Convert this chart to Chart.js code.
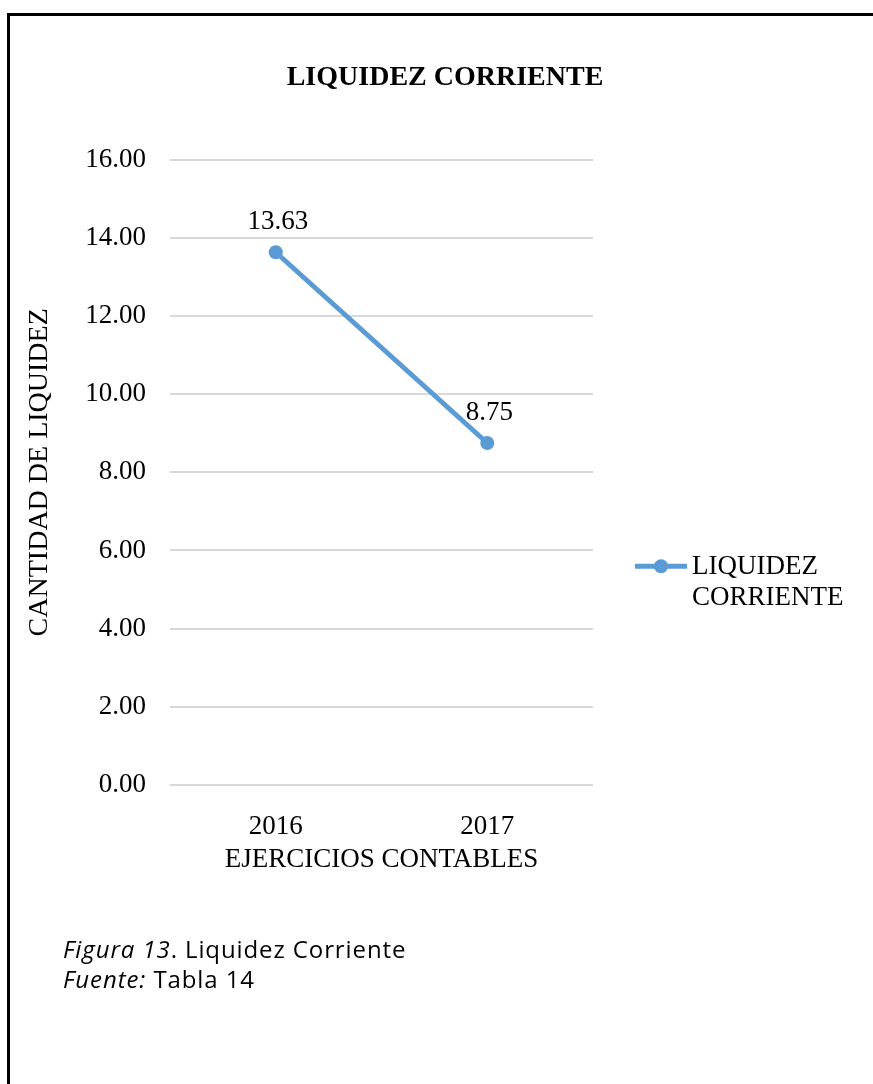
<!DOCTYPE html>
<html>
<head>
<meta charset="utf-8">
<script src="https://cdn.jsdelivr.net/npm/chart.js@4/dist/chart.umd.min.js"></script>
<style>
  html, body { margin: 0; padding: 0; background: #fff; }
  body { width: 873px; height: 1084px; position: relative; overflow: hidden; }
  #chart { position: absolute; left: 0; top: 0; }
  .frame {
    position: absolute; left: 7px; top: 13px; width: 900px; height: 1100px;
    border-left: 3px solid #000; border-top: 3px solid #000;
  }
  .caption {
    position: absolute; left: 63px; top: 934px;
    font-family: "Open Sans", sans-serif; font-size: 24px; line-height: 30px;
    letter-spacing: 0.9px; color: #000;
  }
</style>
</head>
<body>
<canvas id="chart" width="873" height="1084"></canvas>
<div class="frame"></div>
<div class="caption">
  <div><i>Figura 13</i>. Liquidez Corriente</div>
  <div><i>Fuente:</i> Tabla 14</div>
</div>
<script>
const years = ["2016", "2017"];
const liquidez = [13.63, 8.75];
const seriesName = ["LIQUIDEZ", "CORRIENTE"];
const yTicks = [0, 2, 4, 6, 8, 10, 12, 14, 16];

const blue = "#5B9BD5";
const serif = "'Liberation Serif', 'Times New Roman', serif";

// values above each point
const valueLabels = {
    id: "valueLabels",
    afterDatasetsDraw(chart) {
        const ctx = chart.ctx;
        const meta = chart.getDatasetMeta(0);
        ctx.save();
        ctx.font = "27px " + serif;
        ctx.fillStyle = "#000";
        ctx.textAlign = "center";
        ctx.textBaseline = "middle";
        meta.data.forEach((pt, i) => {
            ctx.fillText(liquidez[i].toFixed(2), pt.x + 2, pt.y - 30);
        });
        ctx.restore();
    }
};

// excel style legend: line with marker, text in two lines
const sideLegend = {
    id: "sideLegend",
    afterDraw(chart) {
        const ctx = chart.ctx;
        const area = chart.chartArea;
        const x0 = area.right + 42;
        const midY = (area.top + area.bottom) / 2 + 94;
        ctx.save();
        ctx.strokeStyle = blue;
        ctx.lineWidth = 5;
        ctx.beginPath();
        ctx.moveTo(x0, midY);
        ctx.lineTo(x0 + 52, midY);
        ctx.stroke();
        ctx.fillStyle = blue;
        ctx.beginPath();
        ctx.arc(x0 + 26, midY, 7, 0, Math.PI * 2);
        ctx.fill();
        ctx.fillStyle = "#000";
        ctx.font = "27px " + serif;
        ctx.textAlign = "left";
        ctx.textBaseline = "middle";
        seriesName.forEach((t, i) => {
            ctx.fillText(t, x0 + 57, midY + 1 + i * 31);
        });
        ctx.restore();
    }
};

new Chart(document.getElementById("chart"), {
    type: "line",
    data: {
        labels: years,
        datasets: [{
            label: seriesName.join(" "),
            data: liquidez,
            borderColor: blue,
            backgroundColor: blue,
            borderWidth: 5,
            pointRadius: 7,
            pointHoverRadius: 7,
            pointBorderWidth: 0,
            pointBackgroundColor: blue,
            tension: 0,
            clip: false
        }]
    },
    options: {
        responsive: false,
        animation: false,
        devicePixelRatio: 1,
        layout: { padding: { left: 17, right: 0, top: 0, bottom: 184 } },
        plugins: {
            legend: { display: false },
            tooltip: { enabled: false },
            title: {
                display: true,
                text: "LIQUIDEZ CORRIENTE",
                color: "#000",
                font: { family: serif, size: 28, weight: "bold" },
                padding: { top: 61, bottom: 65 }
            }
        },
        scales: {
            x: {
                offset: true,
                grid: { display: false },
                border: { display: false },
                ticks: { color: "#000", font: { family: serif, size: 27 }, padding: 18 },
                title: {
                    display: true,
                    text: "EJERCICIOS CONTABLES",
                    color: "#000",
                    font: { family: serif, size: 27 },
                    padding: { top: 4, bottom: 24 }
                },
                afterFit: s => { s.height = 115; }
            },
            y: {
                min: 0,
                max: 16,
                afterBuildTicks: s => { s.ticks = yTicks.map(v => ({ value: v })); },
                grid: { color: "#D9D9D9", lineWidth: 2, drawTicks: false },
                border: { display: false },
                ticks: {
                    color: "#000",
                    font: { family: serif, size: 27 },
                    padding: 24,
                    callback: v => v.toFixed(2)
                },
                title: {
                    display: true,
                    text: "CANTIDAD DE LIQUIDEZ",
                    color: "#000",
                    font: { family: serif, size: 28 },
                    padding: { top: 6, bottom: 4 }
                },
                afterFit: s => { s.width = 153; }
            },
            legendSpace: {
                type: "linear",
                position: "right",
                display: true,
                grid: { display: false },
                border: { display: false },
                ticks: { display: false },
                afterFit: s => { s.width = 280; }
            }
        }
    },
    plugins: [valueLabels, sideLegend]
});
</script>
</body>
</html>
